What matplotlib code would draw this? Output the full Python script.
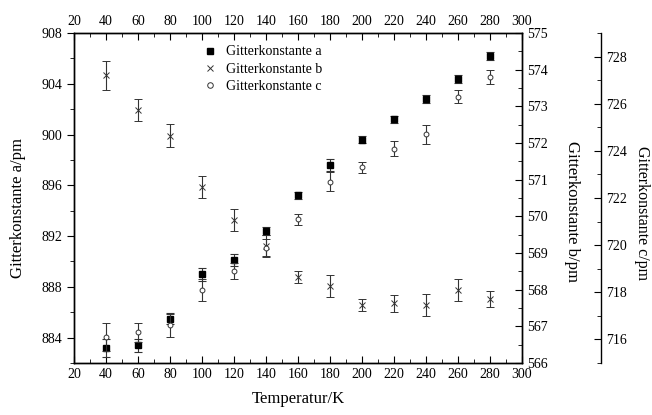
import matplotlib
matplotlib.use('Agg')
import matplotlib.pyplot as plt
from matplotlib.ticker import MultipleLocator
from matplotlib.lines import Line2D

plt.rcParams['font.family'] = ['Liberation Serif', 'DejaVu Serif']
plt.rcParams['font.size'] = 10

temps = [40, 60, 80, 100, 120, 140, 160, 180, 200, 220, 240, 260, 280]
a_vals = [883.2, 883.4, 885.5, 889.0, 890.1, 892.4, 895.2, 897.6, 899.6, 901.2, 902.8, 904.4, 906.2]
a_err = [0.7, 0.5, 0.45, 0.5, 0.47, 0.35, 0.3, 0.48, 0.3, 0.3, 0.3, 0.3, 0.3]
b_vals = [573.85, 572.9, 572.2, 570.8, 569.9, 569.2, 568.35, 568.1, 567.58, 567.63, 567.58, 568.0, 567.75]
b_err = [0.4, 0.31, 0.31, 0.31, 0.3, 0.3, 0.16, 0.3, 0.16, 0.23, 0.3, 0.3, 0.21]
c_vals = [716.1, 716.3, 716.6, 718.1, 718.9, 719.9, 721.1, 722.7, 723.3, 724.1, 724.7, 726.3, 727.15]
c_err = [0.6, 0.4, 0.5, 0.45, 0.33, 0.35, 0.23, 0.42, 0.23, 0.3, 0.4, 0.28, 0.3]

W, H = 652, 415
fig = plt.figure(figsize=(W / 100, H / 100), dpi=100)
ax = fig.add_axes([74 / W, (H - 363) / H, 448 / W, 330 / H])
axb = ax.twinx()
axc = ax.twinx()

ebkw = dict(ecolor='#333333', elinewidth=0.8, capsize=3, capthick=0.8, linestyle='none')
ax.errorbar(temps, a_vals, yerr=a_err, marker='s', ms=4, mfc='black', mec='black', **ebkw)
axb.errorbar(temps, b_vals, yerr=b_err, marker='x', ms=4.5, mec='#333333', mew=0.7, **ebkw)
axc.errorbar(temps, c_vals, yerr=c_err, marker='o', ms=3.5, mfc='white', mec='#333333', mew=0.7, **ebkw)

# x-Achse (unten und oben)
ax.set_xlim(20, 300)
ax.xaxis.set_major_locator(MultipleLocator(20))
ax.xaxis.set_minor_locator(MultipleLocator(10))
ax.tick_params(axis='x', which='both', direction='in', top=True, labeltop=True)
ax.tick_params(axis='x', which='major', length=5)
ax.tick_params(axis='x', which='minor', length=3)

# a-Achse (links)
ax.set_ylim(882, 908)
ax.yaxis.set_major_locator(MultipleLocator(4))
ax.yaxis.set_minor_locator(MultipleLocator(2))
ax.tick_params(axis='y', which='both', direction='out', right=False)
ax.tick_params(axis='y', which='major', length=5)
ax.tick_params(axis='y', which='minor', length=3)

# b-Achse (rechts)
axb.set_ylim(566, 575)
axb.yaxis.set_major_locator(MultipleLocator(1))
axb.yaxis.set_minor_locator(MultipleLocator(0.5))
axb.tick_params(axis='y', which='both', direction='in')
axb.tick_params(axis='y', which='major', length=5)
axb.tick_params(axis='y', which='minor', length=3)

# c-Achse (rechts, versetzt)
axc.set_ylim(715, 729)
axc.spines['right'].set_position(('axes', 1.176))
for s in ['left', 'top', 'bottom']:
    axc.spines[s].set_visible(False)
axc.yaxis.set_major_locator(MultipleLocator(2))
axc.yaxis.set_minor_locator(MultipleLocator(1))
axc.tick_params(axis='y', which='both', direction='in')
axc.tick_params(axis='y', which='major', length=5)
axc.tick_params(axis='y', which='minor', length=3)

for a in (ax, axb, axc):
    for s in a.spines.values():
        s.set_linewidth(1.0)

# Achsenbeschriftungen
fig.text(18 / W, 1 - 208 / H, 'Gitterkonstante a/pm', rotation=90, ha='center', va='center', fontsize=12)
fig.text(572 / W, 1 - 211 / H, 'Gitterkonstante b/pm', rotation=270, ha='center', va='center', fontsize=12)
fig.text(642 / W, 1 - 213 / H, 'Gitterkonstante c/pm', rotation=270, ha='center', va='center', fontsize=11.5)
fig.text(298 / W, 1 - 399 / H, 'Temperatur/K', ha='center', va='center', fontsize=12)

handles = [
    Line2D([], [], ls='none', marker='s', ms=4, mfc='black', mec='black'),
    Line2D([], [], ls='none', marker='x', ms=5, mec='#333333', mew=0.7),
    Line2D([], [], ls='none', marker='o', ms=4, mfc='white', mec='#333333', mew=0.7),
]
labels = ['Gitterkonstante a', 'Gitterkonstante b', 'Gitterkonstante c']
axc.legend(handles, labels, loc='upper left', bbox_to_anchor=(0.261, 1.0), frameon=False,
           handlelength=1.0, handletextpad=0.62, labelspacing=0.3, fontsize=10)

fig.savefig('out.png', dpi=100)
